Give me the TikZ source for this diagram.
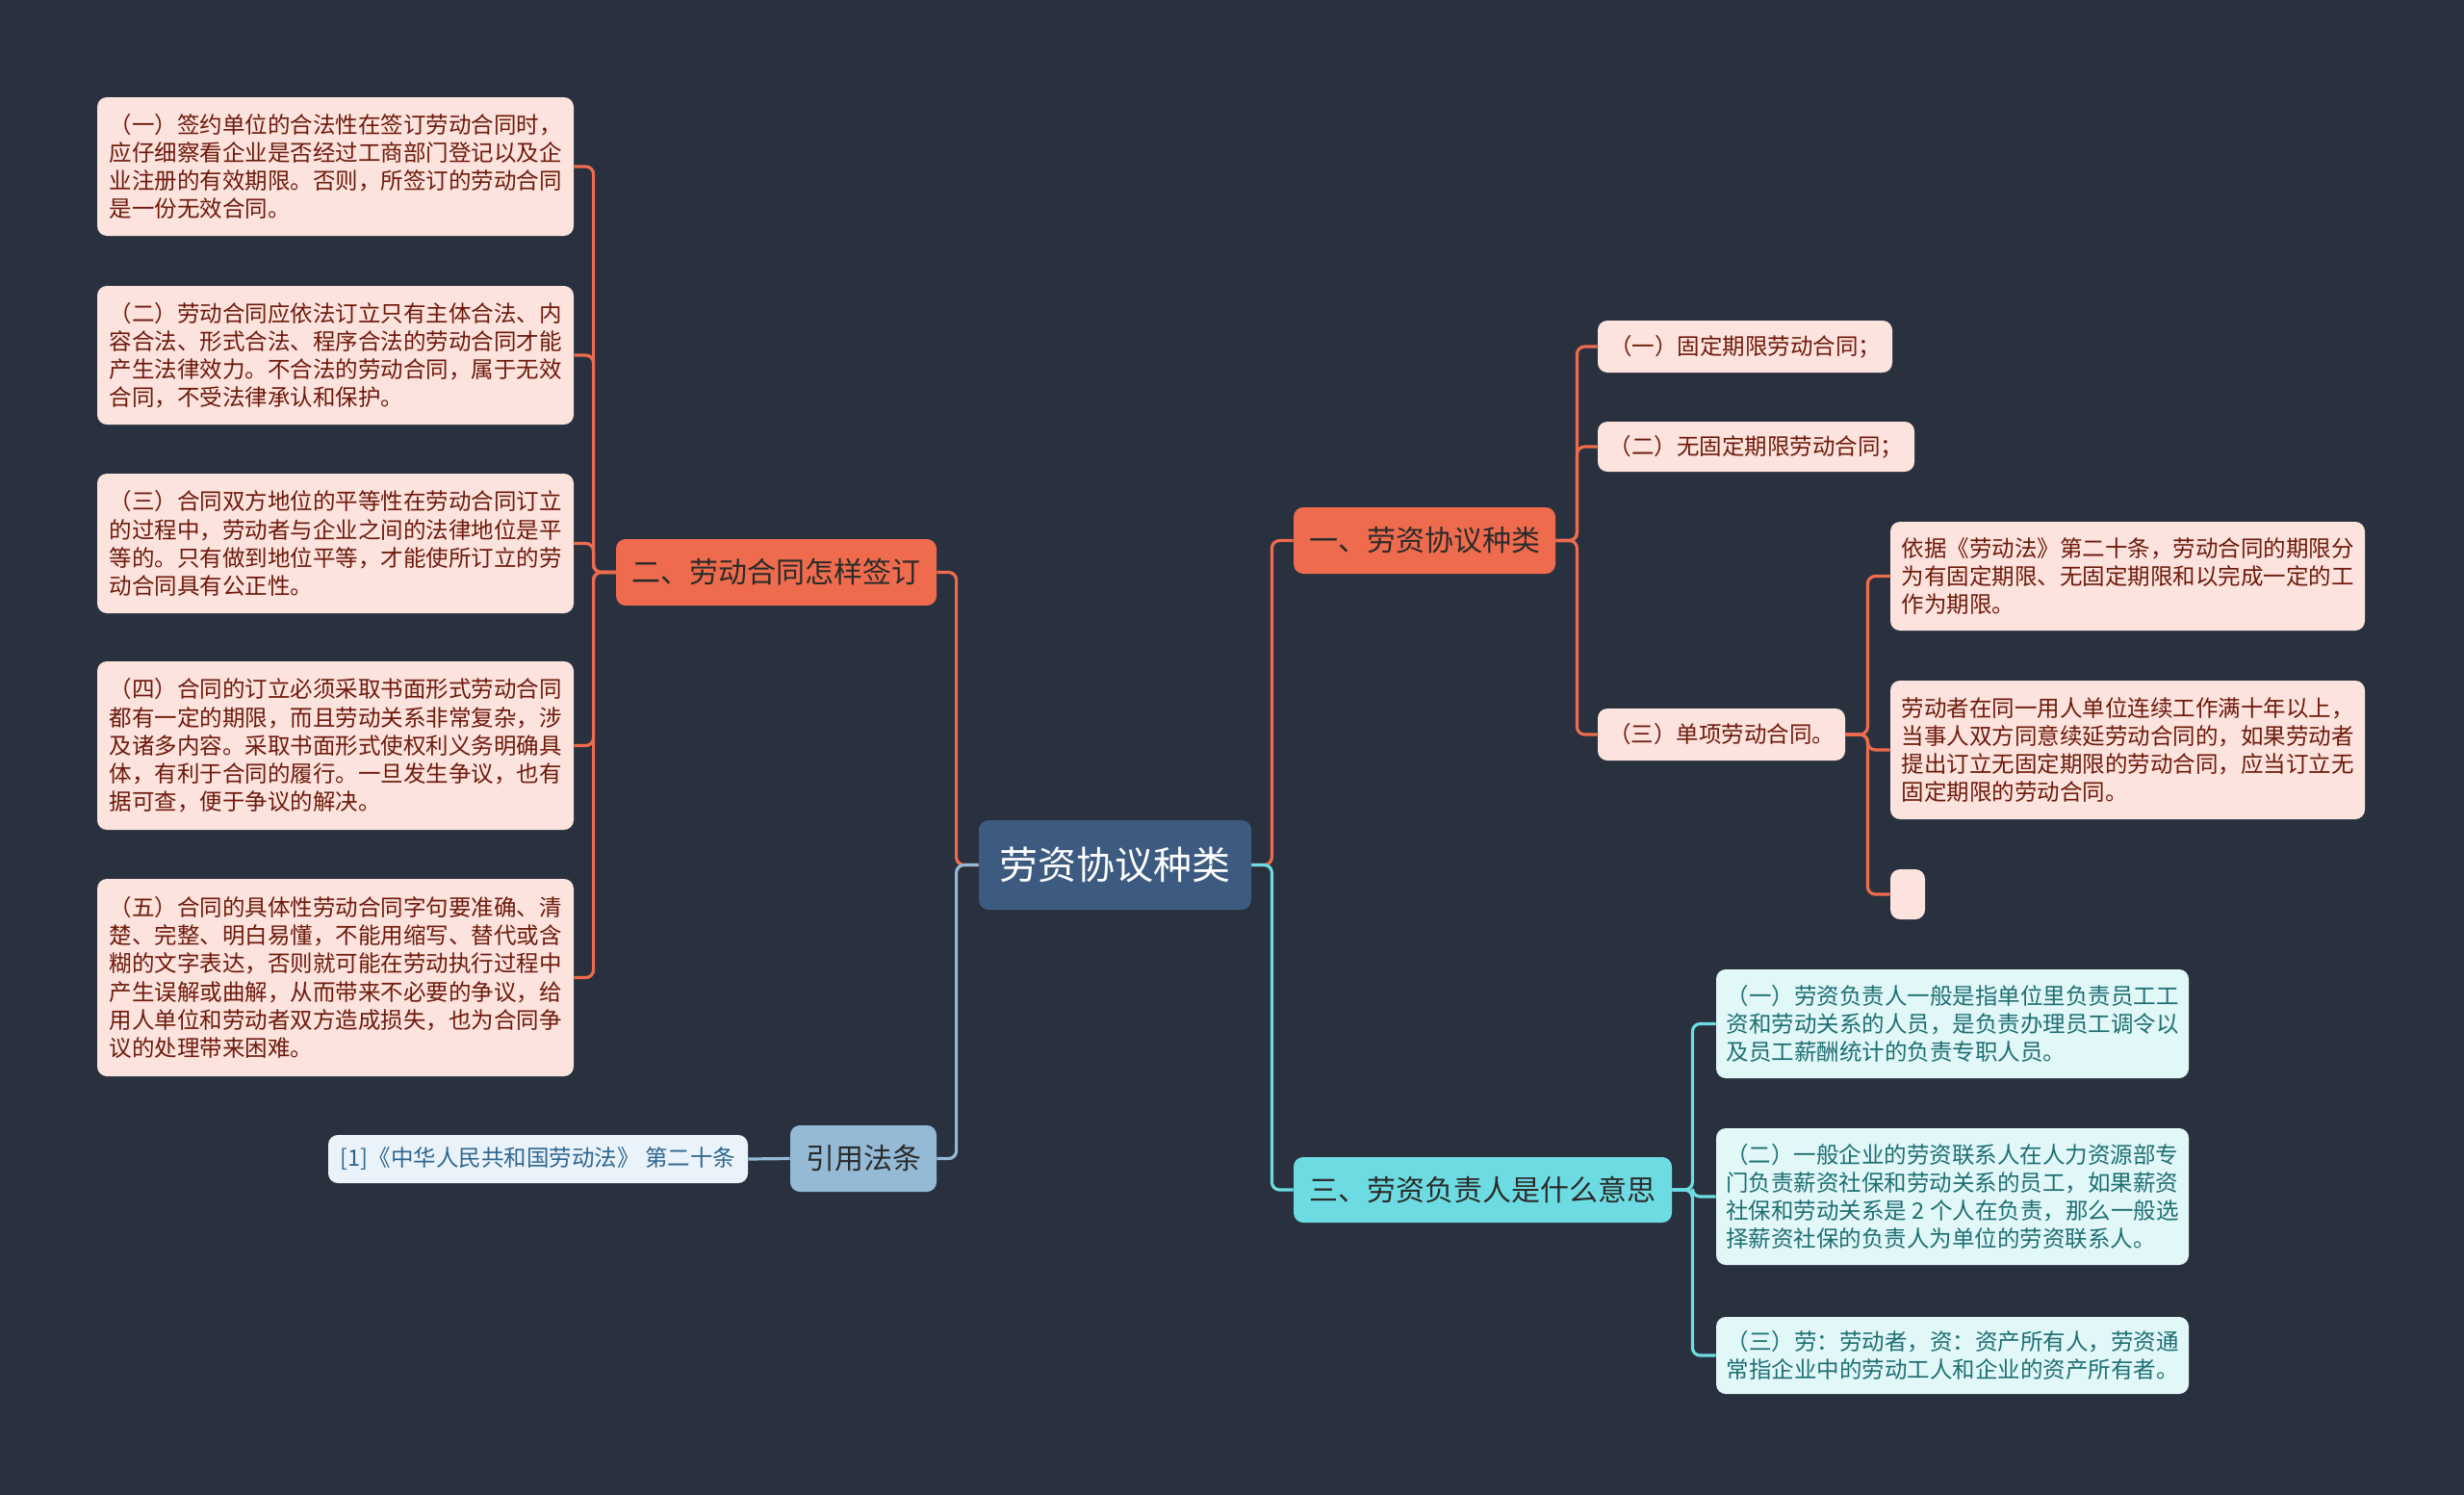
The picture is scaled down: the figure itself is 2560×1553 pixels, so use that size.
\documentclass[tikz,border=0pt]{standalone}
\usepackage{fontspec}
\newfontfamily\cjk{Noto Sans CJK SC}
\definecolor{bg}{HTML}{29313F}
\definecolor{orangeB}{HTML}{EE6B4D}
\definecolor{centerB}{HTML}{3D5A80}
\definecolor{pinkL}{HTML}{FCE3DD}
\definecolor{pinkT}{HTML}{6E1A0C}
\definecolor{cyanB}{HTML}{6DDCE2}
\definecolor{cyanL}{HTML}{E1F7F8}
\definecolor{cyanT}{HTML}{1E6F73}
\definecolor{blueB}{HTML}{94BAD6}
\definecolor{blueL}{HTML}{EAF3F9}
\definecolor{blueT}{HTML}{2F6690}
\definecolor{darkT}{HTML}{2B2B2B}
\begin{document}
\begin{tikzpicture}[x=0.5pt,y=-0.5pt,
  box/.style={rounded corners=5pt, inner sep=0pt, align=left, anchor=center},
  leaffont/.style={font=\cjk\fontsize{11.75}{14.6}\selectfont},
  pinkleaf/.style={box, leaffont, fill=pinkL, text=pinkT},
  cyanleaf/.style={box, leaffont, fill=cyanL, text=cyanT},
  blueleaf/.style={box, leaffont, fill=blueL, text=blueT},
  branchfont/.style={font=\cjk\fontsize{15}{18}\selectfont},
  orangebranch/.style={box, branchfont, fill=orangeB, text=darkT},
  cyanbranch/.style={box, branchfont, fill=cyanB, text=darkT},
  bluebranch/.style={box, branchfont, fill=blueB, text=darkT},
  rootnode/.style={box, font=\cjk\fontsize{20}{24}\selectfont, fill=centerB, text=white},
  con/.style={line width=1.6pt, rounded corners=4pt},
]
\fill[bg] (0,0) rectangle (2560,1553);
\useasboundingbox (0,0) rectangle (2560,1553);

% root and branches
\node[rootnode, minimum width=141.5pt, minimum height=46.5pt] (root) at (1158.5,898.5) {劳资协议种类};
\node[orangebranch, minimum width=136pt, minimum height=34.5pt] (b1) at (1480,561.5) {一、劳资协议种类};
\node[orangebranch, minimum width=166.5pt, minimum height=34.5pt] (b2) at (806.5,594.5) {二、劳动合同怎样签订};
\node[cyanbranch, minimum width=196.5pt, minimum height=34pt] (b3) at (1540.5,1236) {三、劳资负责人是什么意思};
\node[bluebranch, minimum width=76pt, minimum height=34.5pt] (b4) at (897,1203.5) {引用法条};

% left leaves
\node[pinkleaf, minimum width=247.5pt, minimum height=72pt] (l1) at (348.5,173) {（一）签约单位的合法性在签订劳动合同时，\\应仔细察看企业是否经过工商部门登记以及企\\业注册的有效期限。否则，所签订的劳动合同\\是一份无效合同。};
\node[pinkleaf, minimum width=247.5pt, minimum height=72pt] (l2) at (348.5,369) {（二）劳动合同应依法订立只有主体合法、内\\容合法、形式合法、程序合法的劳动合同才能\\产生法律效力。不合法的劳动合同，属于无效\\合同，不受法律承认和保护。};
\node[pinkleaf, minimum width=247.5pt, minimum height=72.5pt] (l3) at (348.5,564.5) {（三）合同双方地位的平等性在劳动合同订立\\的过程中，劳动者与企业之间的法律地位是平\\等的。只有做到地位平等，才能使所订立的劳\\动合同具有公正性。};
\node[pinkleaf, minimum width=247.5pt, minimum height=87.5pt] (l4) at (348.5,774.5) {（四）合同的订立必须采取书面形式劳动合同\\都有一定的期限，而且劳动关系非常复杂，涉\\及诸多内容。采取书面形式使权利义务明确具\\体，有利于合同的履行。一旦发生争议，也有\\据可查，便于争议的解决。};
\node[pinkleaf, minimum width=247.5pt, minimum height=102.5pt] (l5) at (348.5,1015.5) {（五）合同的具体性劳动合同字句要准确、清\\楚、完整、明白易懂，不能用缩写、替代或含\\糊的文字表达，否则就可能在劳动执行过程中\\产生误解或曲解，从而带来不必要的争议，给\\用人单位和劳动者双方造成损失，也为合同争\\议的处理带来困难。};

% citation
\node[blueleaf, minimum width=218pt, minimum height=25pt] (cite) at (559,1204) {[1]《中华人民共和国劳动法》 第二十条};

% right branch 一
\node[pinkleaf, minimum width=153pt, minimum height=27pt] (r1) at (1813,360) {（一）固定期限劳动合同；};
\node[pinkleaf, minimum width=164.5pt, minimum height=26pt] (r2) at (1824.5,464) {（二）无固定期限劳动合同；};
\node[pinkleaf, minimum width=128.5pt, minimum height=27pt] (r3) at (1788.5,763) {（三）单项劳动合同。};
\node[pinkleaf, minimum width=246.5pt, minimum height=56.5pt] (g1) at (2210.5,598.5) {依据《劳动法》第二十条，劳动合同的期限分\\为有固定期限、无固定期限和以完成一定的工\\作为期限。};
\node[pinkleaf, minimum width=246.5pt, minimum height=72pt] (g2) at (2210.5,779) {劳动者在同一用人单位连续工作满十年以上，\\当事人双方同意续延劳动合同的，如果劳动者\\提出订立无固定期限的劳动合同，应当订立无\\固定期限的劳动合同。};
\node[pinkleaf, minimum width=18pt, minimum height=26pt] (g3) at (1982,929) {};

% right branch 三
\node[cyanleaf, minimum width=245.5pt, minimum height=56.5pt] (c1) at (2028.5,1063.5) {（一）劳资负责人一般是指单位里负责员工工\\资和劳动关系的人员，是负责办理员工调令以\\及员工薪酬统计的负责专职人员。};
\node[cyanleaf, minimum width=245.5pt, minimum height=71pt] (c2) at (2028.5,1243) {（二）一般企业的劳资联系人在人力资源部专\\门负责薪资社保和劳动关系的员工，如果薪资\\社保和劳动关系是 2 个人在负责，那么一般选\\择薪资社保的负责人为单位的劳资联系人。};
\node[cyanleaf, minimum width=245.5pt, minimum height=40pt] (c3) at (2028.5,1408) {（三）劳：劳动者，资：资产所有人，劳资通\\常指企业中的劳动工人和企业的资产所有者。};

% connectors: root
\draw[con, orangeB] (root.west) -- ++(-23,0) |- (b2.east);
\draw[con, blueB] (root.west) -- ++(-23,0) |- (b4.east);
\draw[con, orangeB] (root.east) -- ++(21,0) |- (b1.west);
\draw[con, cyanB] (root.east) -- ++(21,0) |- (b3.west);

% branch 二
\foreach \n in {l1,l2,l3,l4,l5}
  \draw[con, orangeB] (b2.west) -- ++(-23,0) |- (\n.east);

% branch 引用
\draw[con, blueB] (b4.west) -- (cite.east);

% branch 一
\foreach \n in {r1,r2,r3}
  \draw[con, orangeB] (b1.east) -- ++(22,0) |- (\n.west);
\foreach \n in {g1,g2,g3}
  \draw[con, orangeB] (r3.east) -- ++(23,0) |- (\n.west);

% branch 三
\foreach \n in {c1,c2,c3}
  \draw[con, cyanB] (b3.east) -- ++(21,0) |- (\n.west);
\end{tikzpicture}
\end{document}
